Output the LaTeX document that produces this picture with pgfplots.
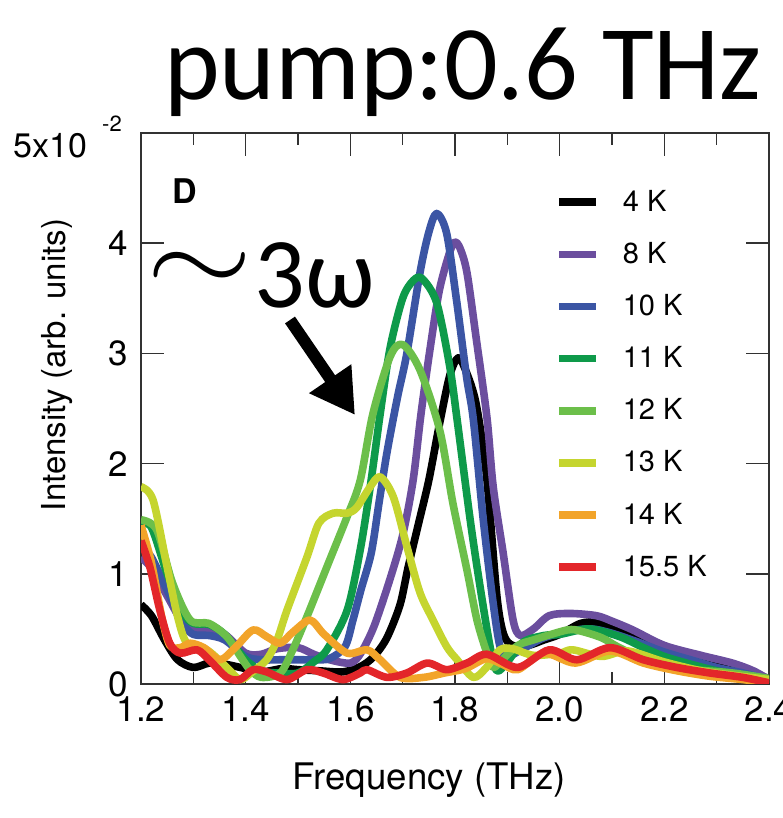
\documentclass[border=0pt]{standalone}
\usepackage{fontspec}
\setmainfont{TeX Gyre Heros}
\newfontfamily\calibri{Carlito}
\usepackage{graphicx}
\usepackage{pgfplots}
\pgfplotsset{compat=1.18}
\usetikzlibrary{arrows.meta}
\definecolor{cK4}{RGB}{0,0,0}
\definecolor{cK8}{RGB}{107,78,158}
\definecolor{cK10}{RGB}{59,85,164}
\definecolor{cK11}{RGB}{14,154,74}
\definecolor{cK12}{RGB}{108,191,74}
\definecolor{cK13}{RGB}{197,213,47}
\definecolor{cK14}{RGB}{242,164,42}
\definecolor{cK15}{RGB}{227,38,42}
\definecolor{axgray}{RGB}{50,50,50}
\begin{document}
\begin{tikzpicture}
\useasboundingbox (0,0) rectangle (391pt,409pt);
\begin{axis}[
  at={(70.5pt,67pt)}, anchor=south west,
  scale only axis, width=314pt, height=275.5pt,
  xmin=1.2, xmax=2.4, ymin=0, ymax=5,
  xtick={1.2,1.4,...,2.41}, minor x tick num=1,
  ytick={0,1,2,3,4},
  tick align=inside,
  major tick length=11.5pt, minor tick length=6pt,
  axis line style={axgray, line width=0.8pt},
  every tick/.style={axgray, line width=0.8pt},
  /pgf/number format/assume math mode=true,
  xticklabel style={/pgf/number format/.cd, fixed, precision=1, zerofill, /tikz/.cd, font=\fontsize{17.5}{20}\selectfont, yshift=-3pt},
  yticklabel style={font=\fontsize{17.5}{20}\selectfont, xshift=-3pt},
  xlabel={Frequency (THz)},
  ylabel={Intensity (arb. units)},
  xlabel style={at={(axis description cs:0.459,-0.192)}, anchor=base, font=\fontsize{18.3}{20}\selectfont},
  ylabel style={at={(axis description cs:-0.134,0.579)}, anchor=center, font=\fontsize{16.5}{20}\selectfont},
  legend style={at={(axis description cs:0.659,0.897)}, anchor=north west, draw=none, fill=none,
    font=\fontsize{14.5}{16}\selectfont, row sep=14pt, column sep=11.5pt, inner sep=0pt,
    nodes={inner sep=0pt, anchor=west}},
  legend cell align=left,
  legend image code/.code={\draw[#1] (0pt,0pt) -- (18.5pt,0pt);},
  every axis plot/.append style={line width=3.8pt, smooth, line join=round},
]
\addplot[cK4] coordinates {(1.20,0.72) (1.22,0.62) (1.245,0.40) (1.27,0.22) (1.30,0.15) (1.33,0.19) (1.36,0.18) (1.39,0.15) (1.43,0.11) (1.47,0.14) (1.50,0.13) (1.54,0.12) (1.586,0.11) (1.62,0.16) (1.645,0.25) (1.67,0.42) (1.695,0.72) (1.71,1.05) (1.73,1.45) (1.75,1.85) (1.77,2.35) (1.79,2.8) (1.806,2.96) (1.82,2.85) (1.84,2.55) (1.86,1.9) (1.88,0.8) (1.893,0.45) (1.91,0.35) (1.94,0.35) (1.97,0.40) (2.00,0.45) (2.04,0.55) (2.07,0.56) (2.10,0.52) (2.15,0.43) (2.20,0.30) (2.25,0.23) (2.30,0.18) (2.35,0.12) (2.40,0.05)};
\addlegendentry{4 K}
\addplot[cK8] coordinates {(1.20,1.15) (1.22,1.05) (1.25,0.80) (1.28,0.55) (1.30,0.49) (1.33,0.48) (1.36,0.45) (1.40,0.28) (1.43,0.27) (1.46,0.32) (1.50,0.33) (1.53,0.27) (1.56,0.22) (1.60,0.19) (1.62,0.28) (1.645,0.52) (1.675,0.94) (1.70,1.35) (1.72,1.85) (1.735,2.45) (1.752,3.03) (1.77,3.57) (1.79,3.92) (1.80,4.01) (1.81,3.95) (1.823,3.73) (1.841,3.12) (1.861,2.42) (1.873,1.79) (1.892,1.19) (1.911,0.58) (1.925,0.44) (1.95,0.50) (1.98,0.62) (2.02,0.64) (2.07,0.62) (2.10,0.57) (2.14,0.49) (2.20,0.35) (2.27,0.26) (2.33,0.19) (2.37,0.12) (2.40,0.04)};
\addlegendentry{8 K}
\addplot[cK10] coordinates {(1.20,1.25) (1.22,1.15) (1.25,0.85) (1.28,0.55) (1.30,0.45) (1.33,0.44) (1.36,0.40) (1.40,0.25) (1.43,0.22) (1.47,0.22) (1.50,0.22) (1.53,0.22) (1.56,0.23) (1.59,0.34) (1.605,0.58) (1.62,0.85) (1.64,1.19) (1.655,1.65) (1.67,2.1) (1.69,2.6) (1.708,3.0) (1.733,3.73) (1.75,4.1) (1.765,4.27) (1.784,4.09) (1.803,3.48) (1.822,2.79) (1.835,2.4) (1.854,1.49) (1.873,0.73) (1.886,0.34) (1.90,0.25) (1.93,0.32) (1.97,0.42) (2.02,0.48) (2.06,0.50) (2.10,0.46) (2.15,0.38) (2.20,0.29) (2.25,0.22) (2.30,0.15) (2.35,0.10) (2.40,0.04)};
\addlegendentry{10 K}
\addplot[cK11] coordinates {(1.20,1.45) (1.22,1.42) (1.25,1.0) (1.28,0.65) (1.30,0.55) (1.33,0.54) (1.36,0.45) (1.40,0.22) (1.43,0.12) (1.46,0.10) (1.50,0.10) (1.53,0.20) (1.555,0.31) (1.594,0.67) (1.619,1.22) (1.638,1.79) (1.657,2.45) (1.676,3.05) (1.70,3.5) (1.72,3.66) (1.737,3.68) (1.765,3.46) (1.79,2.88) (1.804,2.4) (1.829,1.49) (1.848,0.88) (1.867,0.34) (1.88,0.12) (1.90,0.20) (1.93,0.38) (1.97,0.44) (2.00,0.45) (2.05,0.50) (2.08,0.48) (2.12,0.42) (2.16,0.33) (2.20,0.25) (2.25,0.18) (2.30,0.12) (2.35,0.08) (2.40,0.04)};
\addlegendentry{11 K}
\addplot[cK12] coordinates {(1.20,1.49) (1.23,1.40) (1.26,0.92) (1.294,0.58) (1.33,0.55) (1.364,0.43) (1.39,0.25) (1.408,0.13) (1.43,0.06) (1.466,0.10) (1.49,0.31) (1.517,0.61) (1.555,1.06) (1.594,1.52) (1.619,1.85) (1.643,2.45) (1.676,2.97) (1.70,3.08) (1.733,2.85) (1.771,2.3) (1.796,1.64) (1.823,1.03) (1.842,0.58) (1.861,0.28) (1.873,0.15) (1.89,0.22) (1.92,0.35) (1.95,0.40) (2.014,0.49) (2.04,0.48) (2.08,0.42) (2.11,0.34) (2.15,0.25) (2.205,0.15) (2.25,0.13) (2.33,0.10) (2.40,0.05)};
\addlegendentry{12 K}
\addplot[cK13] coordinates {(1.20,1.79) (1.223,1.67) (1.25,1.06) (1.27,0.61) (1.288,0.37) (1.326,0.31) (1.364,0.15) (1.389,0.04) (1.41,0.10) (1.44,0.22) (1.46,0.40) (1.479,0.67) (1.517,1.15) (1.54,1.46) (1.567,1.55) (1.594,1.55) (1.612,1.6) (1.638,1.79) (1.657,1.88) (1.682,1.7) (1.708,1.25) (1.733,0.83) (1.758,0.58) (1.784,0.34) (1.804,0.22) (1.835,0.06) (1.86,0.15) (1.886,0.31) (1.91,0.32) (1.95,0.26) (2.00,0.28) (2.025,0.31) (2.08,0.25) (2.13,0.30) (2.20,0.20) (2.27,0.12) (2.33,0.08) (2.40,0.04)};
\addlegendentry{13 K}
\addplot[cK14] coordinates {(1.20,1.44) (1.22,1.1) (1.24,0.6) (1.255,0.35) (1.275,0.33) (1.294,0.37) (1.32,0.33) (1.351,0.22) (1.38,0.33) (1.414,0.49) (1.44,0.43) (1.466,0.37) (1.49,0.47) (1.523,0.58) (1.55,0.45) (1.594,0.28) (1.632,0.31) (1.657,0.22) (1.695,0.06) (1.74,0.06) (1.78,0.10) (1.82,0.14) (1.86,0.23) (1.89,0.18) (1.92,0.13) (1.97,0.28) (2.03,0.19) (2.096,0.30) (2.16,0.19) (2.224,0.12) (2.287,0.07) (2.35,0.04) (2.40,0.01)};
\addlegendentry{14 K}
\addplot[cK15] coordinates {(1.20,1.30) (1.217,1.06) (1.236,0.67) (1.255,0.37) (1.275,0.28) (1.307,0.31) (1.33,0.22) (1.364,0.06) (1.389,0.04) (1.414,0.13) (1.44,0.11) (1.479,0.04) (1.517,0.13) (1.548,0.10) (1.586,0.04) (1.619,0.10) (1.632,0.13) (1.67,0.06) (1.708,0.10) (1.747,0.19) (1.784,0.13) (1.823,0.19) (1.861,0.27) (1.92,0.15) (1.98,0.31) (2.033,0.22) (2.096,0.33) (2.16,0.22) (2.224,0.15) (2.287,0.10) (2.35,0.06) (2.40,0.01)};
\addlegendentry{15.5 K}
\end{axis}
% annotations
\node[anchor=base, inner sep=0pt] at (231.5pt,359pt) {\calibri\fontsize{53}{53}\selectfont pump:0.6 THz};
\node[anchor=base west, inner sep=0pt] at (6.5pt,330pt) {\fontsize{17}{17}\selectfont 5x10};
\node[anchor=center, inner sep=0pt] at (56pt,347pt) {\fontsize{11}{11}\selectfont -2};
\node[anchor=center, inner sep=0pt] at (92.25pt,313.25pt) {\fontsize{17}{17}\selectfont\bfseries D};
\node[anchor=center, inner sep=0pt] at (100pt,273pt) {\scalebox{2.75}[2.2]{\fontsize{24.88}{25}\selectfont$\sim$}};
\node[anchor=base west, inner sep=0pt] at (127pt,255pt) {\calibri\fontsize{50}{50}\selectfont 3ω};
\draw[line width=6pt, -{Triangle[length=22pt,width=24pt]}] (145pt,249pt) -- (177.5pt,201.5pt);
\end{tikzpicture}
\end{document}
